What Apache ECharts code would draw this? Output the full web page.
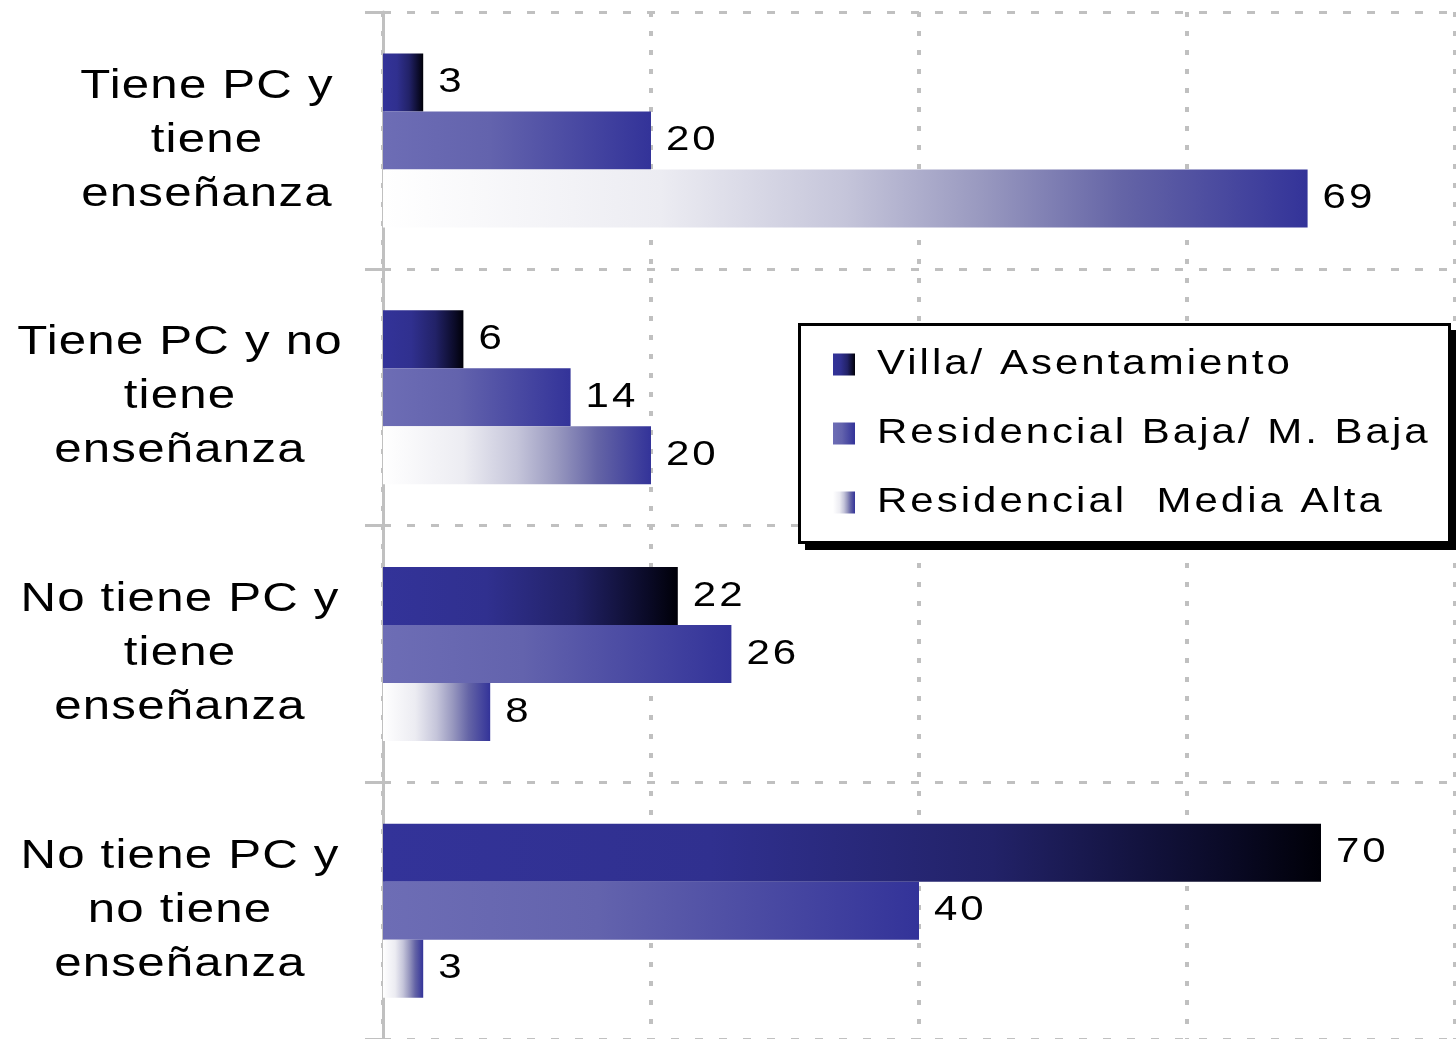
<!DOCTYPE html>
<html>
<head>
<meta charset="utf-8">
<script src="https://cdn.jsdelivr.net/npm/echarts@6/dist/echarts.min.js"></script>
<style>
  html, body { margin: 0; padding: 0; background: #fff; }
  #chart { width: 1456px; height: 1039px; }
</style>
</head>
<body>
<div id="chart"></div>
<script>
var categorias = ['Tiene PC y\ntiene\nenseñanza', 'Tiene PC y no\ntiene\nenseñanza', 'No tiene PC y\ntiene\nenseñanza', 'No tiene PC y\nno tiene\nenseñanza'];
var villa = [3, 6, 22, 70];
var resBaja = [20, 14, 26, 40];
var resMediaAlta = [69, 20, 8, 3];
var nombres = ['Villa/ Asentamiento', 'Residencial Baja/ M. Baja', 'Residencial  Media Alta'];

// el texto del original sale ensanchado y algo espaciado
var ancho = 1.2;
function espaciado(ctx) {
    var m = /(\d+(\.\d+)?)px/.exec(ctx.font);
    var t = m ? parseFloat(m[1]) : 12;
    return (t >= 40 ? 1 : 2.5) + 'px';
}
var ctxProto = CanvasRenderingContext2D.prototype;
var fillTextOrig = ctxProto.fillText;
var measureTextOrig = ctxProto.measureText;
ctxProto.fillText = function (txt, x, y) {
    this.save();
    this.letterSpacing = espaciado(this);
    this.translate(x, y);
    this.scale(ancho, 1);
    fillTextOrig.call(this, txt, 0, 0);
    this.restore();
};
ctxProto.measureText = function (txt) {
    this.letterSpacing = espaciado(this);
    var m = measureTextOrig.call(this, txt);
    return {
        width: m.width * ancho,
        actualBoundingBoxLeft: m.actualBoundingBoxLeft * ancho,
        actualBoundingBoxRight: m.actualBoundingBoxRight * ancho,
        actualBoundingBoxAscent: m.actualBoundingBoxAscent,
        actualBoundingBoxDescent: m.actualBoundingBoxDescent,
        fontBoundingBoxAscent: m.fontBoundingBoxAscent,
        fontBoundingBoxDescent: m.fontBoundingBoxDescent
    };
};

var fuente = '"Liberation Sans", Arial, sans-serif';

function degradado(paradas) {
    return new echarts.graphic.LinearGradient(0, 0, 1, 0, paradas.map(function (p) {
        return {offset: p[0], color: p[1]};
    }));
}
var colVilla = degradado([[0, '#333399'], [0.35, '#30308f'], [0.65, '#222268'], [0.9, '#0a0a26'], [1, '#000008']]);
var colBaja = degradado([[0, '#6d6db5'], [0.4, '#6363ad'], [1, '#333399']]);
var colAlta = degradado([[0, '#ffffff'], [0.3, '#ececf2'], [0.5, '#c5c5da'], [0.65, '#9898bf'], [0.8, '#6464a6'], [1, '#333399']]);

var etiqueta = {
    show: true,
    position: 'right',
    distance: 15,
    color: '#000',
    fontSize: 35,
    fontFamily: fuente
};

function serie(nombre, datos, color) {
    return {
        name: nombre,
        type: 'bar',
        data: datos,
        barWidth: 58,
        barGap: '0%',
        itemStyle: {color: color},
        label: etiqueta
    };
}

var myChart = echarts.init(document.getElementById('chart'));
myChart.setOption({
    animation: false,
    backgroundColor: '#fff',
    grid: {left: 383, right: 1, top: 12, bottom: 0, containLabel: false},
    xAxis: {
        type: 'value',
        min: 0,
        max: 80,
        interval: 20,
        axisLabel: {show: false},
        axisLine: {show: false},
        axisTick: {show: false},
        splitLine: {show: true, lineStyle: {color: '#c0c0c0', width: 4, type: [5, 14]}}
    },
    yAxis: {
        type: 'category',
        inverse: true,
        data: categorias,
        axisLine: {show: true, lineStyle: {color: '#c0c0c0', width: 3}},
        axisTick: {show: true, length: 18, lineStyle: {color: '#c0c0c0', width: 3}},
        splitLine: {show: true, lineStyle: {color: '#c0c0c0', width: 3, type: [8, 16]}},
        axisLabel: {
            margin: 203,
            align: 'center',
            formatter: function (v, i) {
                return i === 0 ? '{a|' + v + '}' : '{b|' + v + '}';
            },
            rich: {
                a: {fontSize: 41, lineHeight: 54, color: '#000', fontFamily: fuente, align: 'center', padding: [0, 0, 0, 54]},
                b: {fontSize: 41, lineHeight: 54, color: '#000', fontFamily: fuente, align: 'center'}
            }
        }
    },
    legend: {
        orient: 'vertical',
        left: 833,
        top: 342,
        padding: 0,
        itemWidth: 22,
        itemHeight: 22,
        itemGap: 24,
        icon: 'rect',
        z: 5,
        data: nombres,
        textStyle: {color: '#000', fontSize: 35, lineHeight: 40, fontFamily: fuente, padding: [0, 0, 0, 17]}
    },
    graphic: [{
        type: 'rect',
        left: 805,
        top: 330,
        z: 4,
        shape: {width: 652, height: 220},
        style: {fill: '#000'}
    }, {
        type: 'rect',
        left: 798,
        top: 323,
        z: 4,
        shape: {width: 650, height: 218},
        style: {fill: '#fff', stroke: '#000', lineWidth: 3}
    }],
    series: [
        serie(nombres[0], villa, colVilla),
        serie(nombres[1], resBaja, colBaja),
        serie(nombres[2], resMediaAlta, colAlta)
    ]
});
</script>
</body>
</html>
